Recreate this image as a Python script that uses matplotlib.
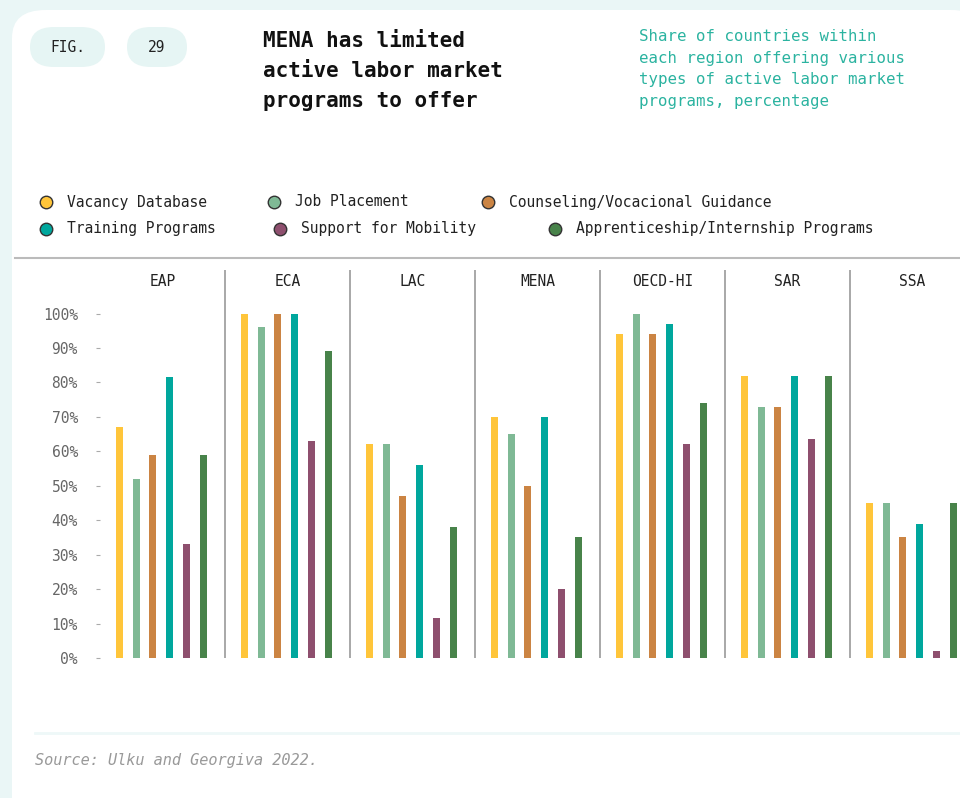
import matplotlib.pyplot as plt
from matplotlib.patches import FancyBboxPatch
from matplotlib.lines import Line2D

# Data (percent of countries offering each program type)
regions = ['EAP', 'ECA', 'LAC', 'MENA', 'OECD-HI', 'SAR', 'SSA']
programs = ['Vacancy Database', 'Job Placement', 'Counseling/Vocacional Guidance',
            'Training Programs', 'Support for Mobility', 'Apprenticeship/Internship Programs']
vacancy = [67, 100, 62, 70, 94, 82, 45]
placement = [52, 96, 62, 65, 100, 73, 45]
counseling = [59, 100, 47, 50, 94, 73, 35]
training = [81.5, 100, 56, 70, 97, 82, 39]
mobility = [33, 63, 11.5, 20, 62, 63.5, 2]
apprentice = [59, 89, 38, 35, 74, 82, 45]
series = [vacancy, placement, counseling, training, mobility, apprentice]
colors = ['#FFC53A', '#7FB995', '#CB8443', '#00A79D', '#8E4F6E', '#48834A']
yticks = [0, 10, 20, 30, 40, 50, 60, 70, 80, 90, 100]

W, H = 960, 798
MONO = 'DejaVu Sans Mono'
plt.rcParams['font.family'] = MONO


def fx(px):
    return px / W


def fy(py):
    return 1 - py / H


fig = plt.figure(figsize=(9.6, 7.98), dpi=100)
fig.patch.set_facecolor('#EAF6F6')

# white card (behind everything)
card = FancyBboxPatch((fx(12), fy(830)), fx(985) - fx(12), fy(10) - fy(830),
                      boxstyle='round,pad=0,rounding_size=0.035',
                      transform=fig.transFigure, facecolor='white', edgecolor='none',
                      zorder=-10)
fig.add_artist(card)

# header pills
for x0, x1, label in [(30, 105, 'FIG.'), (127, 187, '29')]:
    pill = FancyBboxPatch((fx(x0), fy(67)), fx(x1) - fx(x0), fy(27) - fy(67),
                          boxstyle='round,pad=0,rounding_size=0.025',
                          transform=fig.transFigure, facecolor='#E6F5F4', edgecolor='none',
                          zorder=-5)
    fig.add_artist(pill)
    fig.text(fx((x0 + x1) / 2), fy(47), label, ha='center', va='center',
             fontsize=10.5, color='#222222')

fig.text(fx(263), fy(31), 'MENA has limited\nactive labor market\nprograms to offer',
         ha='left', va='top', fontsize=15, fontweight='bold', color='#111111',
         linespacing=1.62)
fig.text(fx(639), fy(29), 'Share of countries within\neach region offering various\n'
         'types of active labor market\nprograms, percentage',
         ha='left', va='top', fontsize=11.3, color='#2BB3A0', linespacing=1.55)

# legend (manual placement)
legend_pos = [(46, 202), (274, 202), (488, 202), (46, 229), (280, 229), (555, 229)]
for (mx, my), name, c in zip(legend_pos, programs, colors):
    fig.add_artist(Line2D([fx(mx)], [fy(my)], marker='o', markersize=9,
                          markerfacecolor=c, markeredgecolor='#333333', markeredgewidth=1,
                          transform=fig.transFigure))
    fig.text(fx(mx + 21), fy(my), name, ha='left', va='center', fontsize=10.5, color='#222222')

# separator lines
fig.add_artist(Line2D([fx(15), fx(960)], [fy(258), fy(258)], color='#BBBBBB', lw=1.5,
                      transform=fig.transFigure))
fig.add_artist(Line2D([fx(35), fx(960)], [fy(733), fy(733)], color='#EEF8F8', lw=2,
                      transform=fig.transFigure))

# chart
ax_left, ax_right, ax_top, ax_bottom = 100, 960, 270, 658
ax = fig.add_axes([fx(ax_left), fy(ax_bottom), fx(ax_right) - fx(ax_left),
                   fy(ax_top) - fy(ax_bottom)])
panel_px = 125
px_per_pct = 3.445
ymax = (ax_bottom - ax_top) / px_per_pct
ax.set_xlim(0, (ax_right - ax_left) / panel_px)
ax.set_ylim(0, ymax)

first = 19.5 / panel_px
step = 16.7 / panel_px
width = 7 / panel_px
for k, (vals, c) in enumerate(zip(series, colors)):
    xs = [i + first + k * step for i in range(len(regions))]
    ax.bar(xs, vals, width=width, color=c, linewidth=0)

for i, r in enumerate(regions):
    if i > 0:
        ax.axvline(i, color='#999999', lw=1.2)
    ax.text(i + 0.5, ymax - 11 / px_per_pct, r, ha='center', va='center',
            fontsize=10.5, color='#222222')

for s in ax.spines.values():
    s.set_visible(False)
ax.set_xticks([])
ax.set_yticks(yticks)
ax.set_yticklabels([f'{t}%' for t in yticks])
ax.tick_params(axis='y', length=3, color='#AAAAAA', pad=13, labelsize=10.5,
               labelcolor='#666666')
ax.set_facecolor('none')

fig.text(fx(35), fy(761), 'Source: Ulku and Georgiva 2022.', ha='left', va='center',
         fontsize=11, style='italic', color='#999999')

fig.savefig('out.png', dpi=100, facecolor=fig.get_facecolor())
